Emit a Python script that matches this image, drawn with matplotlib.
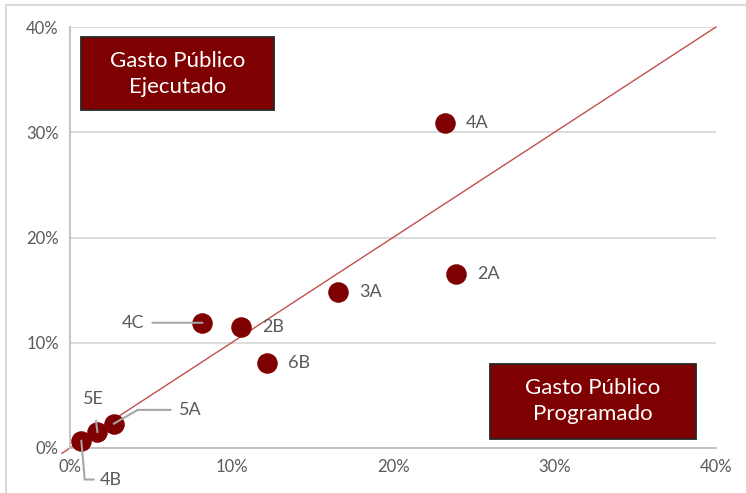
import matplotlib
matplotlib.use("Agg")
import matplotlib.pyplot as plt
from matplotlib.ticker import PercentFormatter
from matplotlib.patches import Rectangle

labels = ["4A", "2A", "3A", "4C", "2B", "6B", "5A", "5E", "4B"]
programado = [23.2, 23.9, 16.6, 8.2, 10.6, 12.2, 2.7, 1.7, 0.7]
ejecutado = [30.9, 16.5, 14.8, 11.9, 11.5, 8.1, 2.3, 1.5, 0.7]

plt.rcParams['font.family'] = ['Lato', 'DejaVu Sans']

fig = plt.figure(figsize=(7.46, 4.93), dpi=100)
ax = fig.add_axes([70/746, 1-448/493, 646/746, 421/493])

# outer border
fig.patches.append(Rectangle((6/746, -0.05), 1.0, 1-5/493+0.05, transform=fig.transFigure,
                             fill=False, edgecolor="#d9d9d9", linewidth=1.5, zorder=0))

ax.set_xlim(0, 40)
ax.set_ylim(0, 40)
ax.set_xticks([0, 10, 20, 30, 40])
ax.set_yticks([0, 10, 20, 30, 40])
ax.xaxis.set_major_formatter(PercentFormatter(decimals=0))
ax.yaxis.set_major_formatter(PercentFormatter(decimals=0))
ax.tick_params(length=0, labelsize=12, colors="#595959", pad=8)
ax.grid(axis="y", color="#d9d9d9", linewidth=1.3)
ax.set_axisbelow(True)
for s in ["top", "right"]:
    ax.spines[s].set_visible(False)
for s in ["left", "bottom"]:
    ax.spines[s].set_color("#bfbfbf")
    ax.spines[s].set_linewidth(1.3)

# diagonal reference line
ax.plot([-0.5, 40], [-0.5, 40], color="#c0504d", linewidth=1.0, clip_on=False, zorder=2)

ax.scatter(programado, ejecutado, s=190, color="#7f0000", zorder=3, clip_on=False)

txt_kw = dict(fontsize=13, color="#595959", va="center")
pts = dict(zip(labels, zip(programado, ejecutado)))

for lab in ["4A", "2A", "3A", "2B", "6B"]:
    x, y = pts[lab]
    ax.annotate(lab, (x, y), xytext=(15, 0), textcoords="offset points", ha="left", **txt_kw)

# 4C leader
x, y = pts["4C"]
ax.annotate("4C", (x, y), xytext=(-42, 0), textcoords="offset points", ha="right",
            arrowprops=dict(arrowstyle="-", color="#a6a6a6", lw=1.5, shrinkA=4, shrinkB=0), **txt_kw)
# 5E leader
x, y = pts["5E"]
ax.annotate("5E", (x, y), xytext=(-3, 24), textcoords="offset points", ha="center",
            arrowprops=dict(arrowstyle="-", color="#a6a6a6", lw=1.5, shrinkA=8, shrinkB=0), **txt_kw)
# 5A leader
x, y = pts["5A"]
ax.annotate("5A", (x, y), xytext=(47, 10), textcoords="offset points", ha="left",
            arrowprops=dict(arrowstyle="-", color="#a6a6a6", lw=1.5, shrinkA=4, shrinkB=0,
                            connectionstyle="angle,angleA=180,angleB=30,rad=0"), **txt_kw)
# 4B leader
x, y = pts["4B"]
ax.annotate("4B", (x, y), xytext=(13, -28), textcoords="offset points", ha="left",
            arrowprops=dict(arrowstyle="-", color="#a6a6a6", lw=1.5, shrinkA=2, shrinkB=0,
                            connectionstyle="angle,angleA=180,angleB=95,rad=0"), **txt_kw)

box_kw = dict(fontsize=16, color="white", ha="center", va="center", linespacing=1.4)
fig.patches.append(Rectangle((81/746, 1-110/493), 193/746, 73/493, transform=fig.transFigure,
                             facecolor="#7f0000", edgecolor="#262626", linewidth=1.3, zorder=5))
fig.text((81+193/2)/746, 1-74/493, "Gasto Público\nEjecutado", zorder=6, **box_kw)
fig.patches.append(Rectangle((490/746, 1-439/493), 206/746, 75/493, transform=fig.transFigure,
                             facecolor="#7f0000", edgecolor="#262626", linewidth=1.3, zorder=5))
fig.text((490+206/2)/746, 1-401/493, "Gasto Público\nProgramado", zorder=6, **box_kw)

fig.savefig("out.png", dpi=100)
